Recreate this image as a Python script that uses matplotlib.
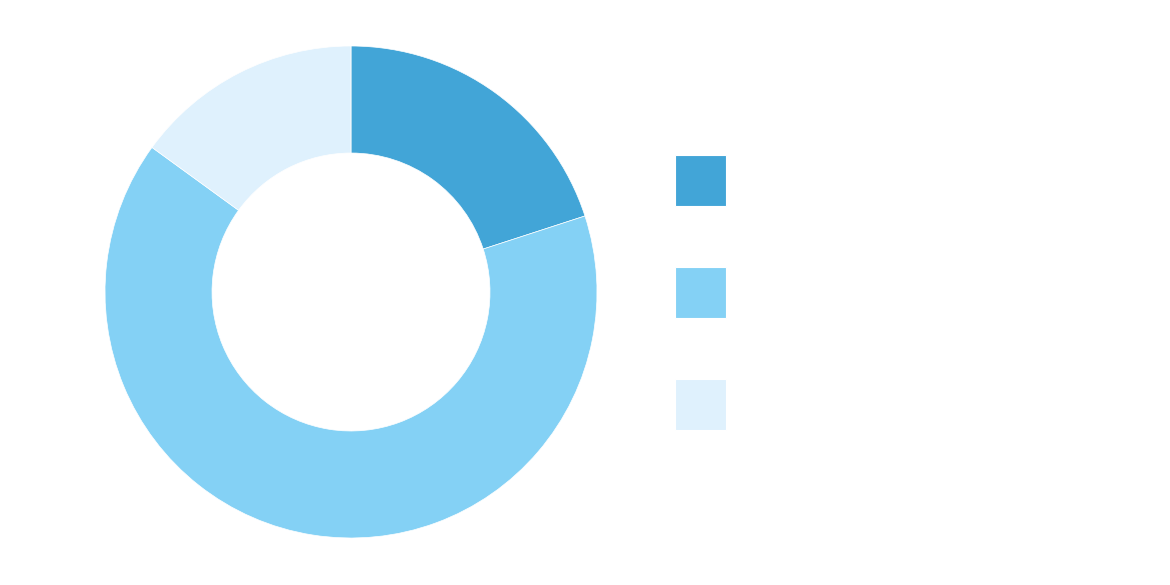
import matplotlib
matplotlib.use("Agg")
import matplotlib.pyplot as plt
from matplotlib.patches import Rectangle

# donut shares (clockwise from 12 o'clock)
categories = ["A", "B", "C"]
shares = [20, 65, 15]
colors = ["#42a5d7", "#84d1f5", "#dff1fd"]

W, H = 1170, 585
fig = plt.figure(figsize=(W / 100, H / 100), dpi=100)

cx, cy, r = 351, 292, 246
ax = fig.add_axes([(cx - r) / W, (H - cy - r) / H, 2 * r / W, 2 * r / H])
ax.pie(shares, colors=colors, startangle=90, counterclock=False, radius=1,
       wedgeprops=dict(width=0.435, edgecolor="white", linewidth=0.5))
ax.set_xlim(-1, 1); ax.set_ylim(-1, 1)
ax.set_aspect("equal")
ax.axis("off")

# legend swatches (labels are not visible in the reference)
for i, (lab, c) in enumerate(zip(categories, colors)):
    x0, y0, s = 675, 155 + i * 112, 51
    fig.patches.append(Rectangle((x0 / W, 1 - (y0 + s) / H), s / W, s / H,
                                 transform=fig.transFigure, fc=c,
                                 ec="white", lw=0.8))

fig.savefig("out.png", facecolor="white")
